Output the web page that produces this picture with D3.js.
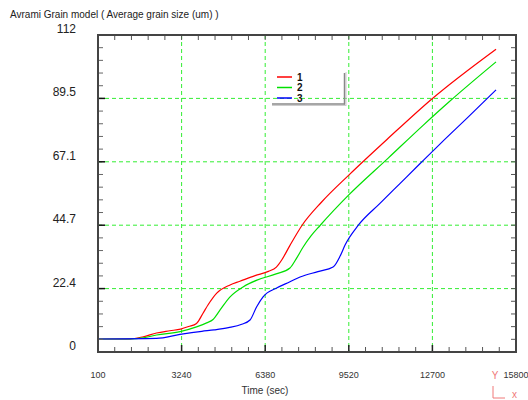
<!DOCTYPE html>
<html><head><meta charset="utf-8">
<script src="https://cdn.jsdelivr.net/npm/d3@7"></script>
<style>body{margin:0;background:#fff;}svg{display:block;font-family:"Liberation Sans",Arial,sans-serif;}</style>
</head><body>
<svg id="c" width="528" height="400"></svg>
<script>
const title = "Avrami Grain model ( Average grain size (um) )";
const xLabel = "Time (sec)";
const xTickValues = [100, 3240, 6380, 9520, 12660, 15800];
const xTickLabels = ["100", "3240", "6380", "9520", "12700", "15800"];
const yTickValues = [0, 22.4, 44.8, 67.2, 89.6, 112];
const yTickLabels = ["0", "22.4", "44.7", "67.1", "89.5", "112"];
const seriesNames = ["1", "2", "3"];
const seriesColors = ["#ff0000", "#00e000", "#0000ff"];

const series1 = [[100,4.6],[1300,4.6],[1800,5.4],[2300,6.7],[2800,7.5],[3200,8.1],[3500,9.0],[3800,10.1],[4050,13.8],[4230,16.6],[4560,20.8],[5060,23.7],[5430,25.0],[6000,27.0],[6500,28.5],[6800,30],[7000,32.5],[7300,37.5],[7760,44.7],[8500,53],[9520,62.5],[11000,75.5],[12650,89.5],[15050,107]];
const series2 = [[100,4.6],[1300,4.6],[1800,5.0],[2300,6.0],[3180,7.2],[3800,8.9],[4180,10.3],[4420,11.5],[4680,14.8],[5060,19.5],[5550,23],[6070,25.4],[6790,27.6],[7310,29.7],[7550,33],[7800,37],[8100,41],[8440,44.7],[9520,55.5],[11000,68.5],[12300,80],[13300,88.5],[15050,102.5]];
const series3 = [[100,4.6],[2300,4.8],[3180,6.2],[4000,7.3],[4460,7.8],[5000,8.6],[5500,9.8],[5810,11.3],[6060,16],[6300,19.5],[6810,22.6],[7310,24.8],[7690,26.5],[8360,28.4],[8930,30],[9200,34],[9380,37.8],[9870,44.7],[10690,52.5],[11440,59.5],[12190,66.5],[13000,74],[14000,83],[15050,92.6]];
const allSeries = [series1, series2, series3];

const svg = d3.select("#c");
const x = d3.scaleLinear().domain([100, 15800]).range([98, 516]);
const y = d3.scaleLinear().domain([0, 112]).range([352, 35]);
const [x0, x1] = x.range();
const [y0, y1] = y.range();

// title
svg.append("text").attr("x", 10).attr("y", 18).attr("font-size", 10).attr("fill", "#222").text(title);

// grid
const g = svg.append("g");
g.selectAll(".gx").data(xTickValues.slice(1, -1)).join("line")
  .attr("x1", d => x(d)).attr("x2", d => x(d)).attr("y1", y1).attr("y2", y0)
  .attr("stroke", "#33ee33").attr("stroke-width", 1).attr("stroke-dasharray", "4,3");
g.selectAll(".gy").data(yTickValues.slice(1, -1)).join("line")
  .attr("y1", d => y(d)).attr("y2", d => y(d)).attr("x1", x0).attr("x2", x1)
  .attr("stroke", "#33ee33").attr("stroke-width", 1).attr("stroke-dasharray", "4,3");

// curves
const line = d3.line().x(d => x(d[0])).y(d => y(d[1])).curve(d3.curveMonotoneX);
svg.selectAll(".s").data(allSeries).join("path")
  .attr("d", line).attr("fill", "none")
  .attr("stroke", (d, i) => seriesColors[i]).attr("stroke-width", 1.2);

// minor ticks
const xMinor = d3.range(0, 26).map(i => 100 + i * 628);
const yMinor = d3.range(0, 26).map(i => i * 4.48);
const tk = svg.append("g");
xMinor.forEach((v, i) => {
  const major = i % 5 === 0;
  const L = major ? 7 : 5;
  tk.append("line").attr("x1", x(v)).attr("x2", x(v)).attr("y1", y0).attr("y2", y0 - L)
    .attr("stroke", major ? "#222" : "#555").attr("stroke-width", major ? 1.5 : 1);
  tk.append("line").attr("x1", x(v)).attr("x2", x(v)).attr("y1", y1).attr("y2", y1 + 5)
    .attr("stroke", "#555").attr("stroke-width", 1);
});
yMinor.forEach((v, i) => {
  const major = i % 5 === 0;
  const L = major ? 7 : 5;
  tk.append("line").attr("y1", y(v)).attr("y2", y(v)).attr("x1", x0).attr("x2", x0 + L)
    .attr("stroke", major ? "#111" : "#666").attr("stroke-width", major ? 1.5 : 1);
  tk.append("line").attr("y1", y(v)).attr("y2", y(v)).attr("x1", x1).attr("x2", x1 - 5)
    .attr("stroke", "#555").attr("stroke-width", 1);
});

// frame
svg.append("rect").attr("x", x0).attr("y", y1).attr("width", x1 - x0).attr("height", y0 - y1)
  .attr("fill", "none").attr("stroke", "#444").attr("stroke-width", 2);

// tick labels
svg.selectAll(".xl").data(xTickValues).join("text")
  .attr("x", d => x(d)).attr("y", 378).attr("text-anchor", "middle")
  .attr("font-size", 9).attr("fill", "#333").text((d, i) => xTickLabels[i]);
svg.selectAll(".yl").data(yTickValues).join("text")
  .attr("x", 76).attr("y", d => y(d) - 2).attr("text-anchor", "end")
  .attr("font-size", 12).attr("fill", "#222").text((d, i) => yTickLabels[i]);

svg.append("text").attr("x", 265).attr("y", 394).attr("text-anchor", "middle")
  .attr("font-size", 10).attr("fill", "#333").text(xLabel);

// legend
const lg = svg.append("g");
lg.append("line").attr("x1", 346).attr("x2", 346).attr("y1", 72).attr("y2", 106).attr("stroke", "#ccc").attr("stroke-width", 1);
lg.append("line").attr("x1", 344.5).attr("x2", 344.5).attr("y1", 73).attr("y2", 104.5).attr("stroke", "#888").attr("stroke-width", 1.5);
lg.append("line").attr("x1", 272).attr("x2", 346).attr("y1", 105.5).attr("y2", 105.5).attr("stroke", "#ccc").attr("stroke-width", 1);
lg.append("line").attr("x1", 272).attr("x2", 345).attr("y1", 104).attr("y2", 104).attr("stroke", "#888").attr("stroke-width", 1.5);
seriesNames.forEach((n, i) => {
  const yy = 77 + i * 10.5;
  lg.append("line").attr("x1", 277).attr("x2", 292).attr("y1", yy).attr("y2", yy)
    .attr("stroke", seriesColors[i]).attr("stroke-width", 1.5);
  lg.append("text").attr("x", 297).attr("y", yy + 3.5).attr("font-size", 10).attr("font-weight", "bold")
    .attr("fill", "#111").text(n);
});

// axis indicator
const ai = svg.append("g").attr("stroke", "#f07878").attr("fill", "none");
svg.append("text").attr("x", 495).attr("y", 379).attr("text-anchor", "middle").attr("font-size", 10).attr("fill", "#f07878").text("Y");
ai.append("polyline").attr("points", "493,386 493,398 505,398").attr("stroke-width", 1);
svg.append("text").attr("x", 514.5).attr("y", 398).attr("text-anchor", "middle").attr("font-size", 10).attr("fill", "#f07878").text("x");
</script>
</body></html>
